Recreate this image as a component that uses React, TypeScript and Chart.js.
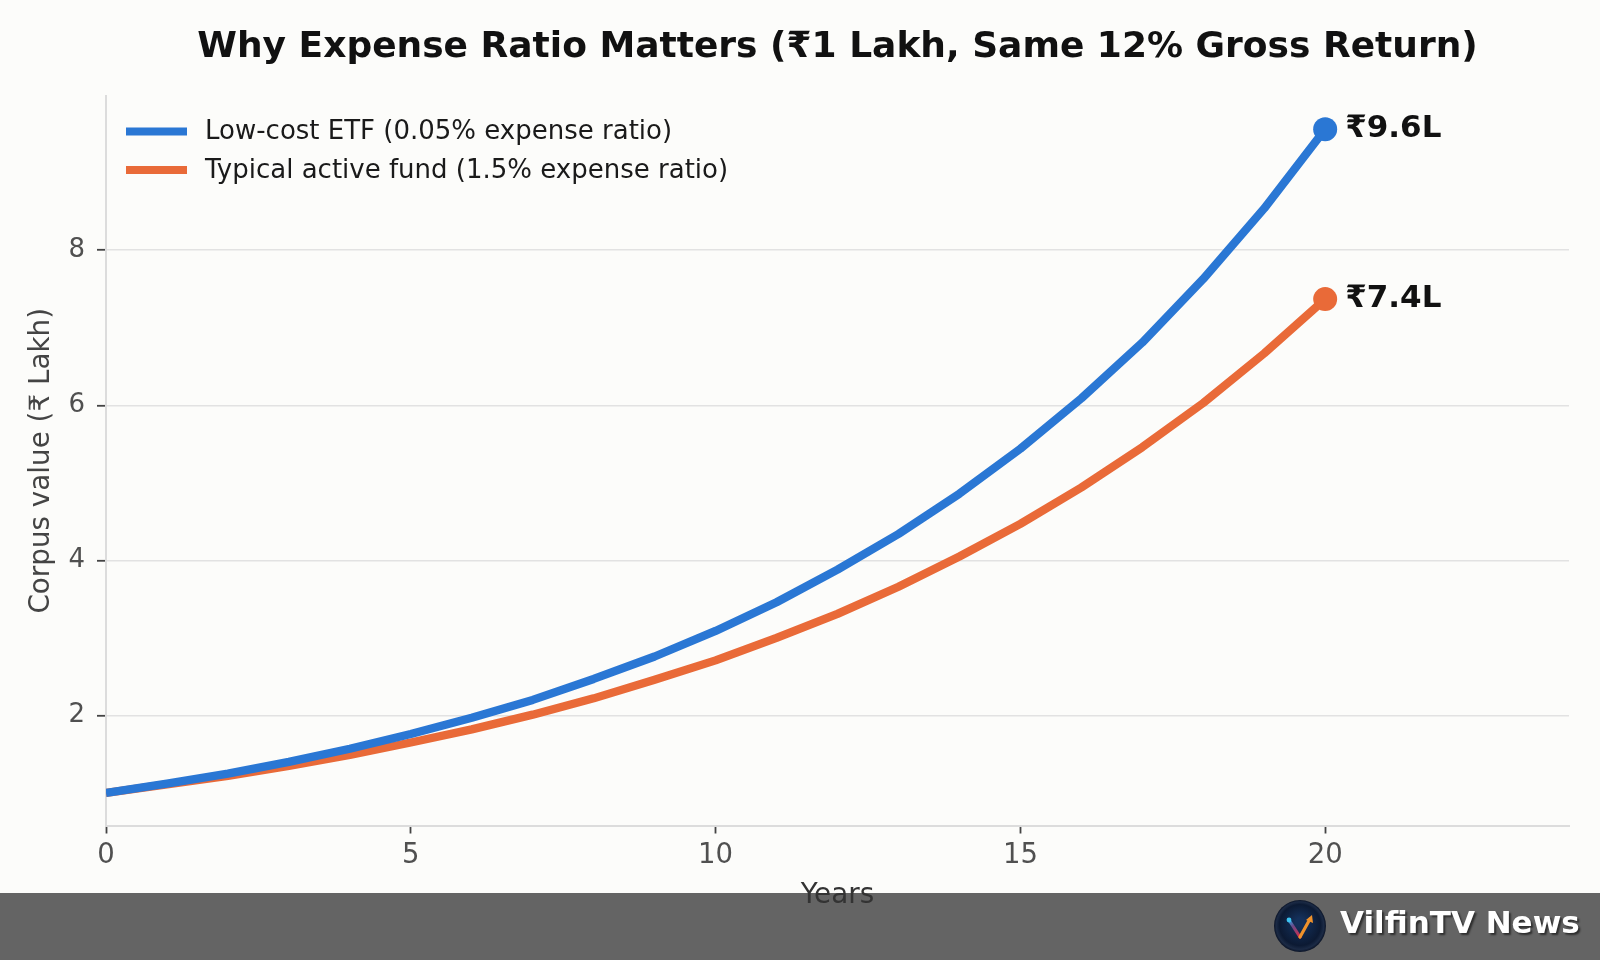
import { useEffect, useRef } from "react";
import { Chart, registerables } from "chart.js";

Chart.register(...registerables);

// Corpus growth of ₹1 lakh, in lakh, year by year
const YEARS = [0, 1, 2, 3, 4, 5, 6, 7, 8, 9, 10, 11, 12, 13, 14, 15, 16, 17, 18, 19, 20];
const ETF_LAKH = [1.0, 1.12, 1.25, 1.4, 1.57, 1.76, 1.97, 2.2, 2.47, 2.76, 3.09, 3.46, 3.88, 4.34, 4.86, 5.44, 6.09, 6.81, 7.63, 8.54, 9.56];
const ACTIVE_LAKH = [1.0, 1.11, 1.22, 1.35, 1.49, 1.65, 1.82, 2.01, 2.22, 2.46, 2.71, 3.0, 3.31, 3.66, 4.05, 4.47, 4.94, 5.46, 6.03, 6.67, 7.37];

const SERIES_LABELS = ["Low-cost ETF (0.05% expense ratio)", "Typical active fund (1.5% expense ratio)"];
const SERIES_COLORS = ["#2a77d4", "#e96a38"];

const X_TICKS = [0, 5, 10, 15, 20];
const Y_TICKS = [2, 4, 6, 8];

const TITLE = "Why Expense Ratio Matters (₹1 Lakh, Same 12% Gross Return)";
const X_TITLE = "Years";
const Y_TITLE = "Corpus value (₹ Lakh)";
const BRAND = "VilfinTV News";

const W = 1600;
const H = 960;
const FONT = "'DejaVu Sans', 'Noto Sans', sans-serif";
const BG = "#fcfcfa";
const FOOTER_TOP = 893;

const backdrop = {
  id: "backdrop",
  beforeDraw(chart: Chart) {
    const ctx = chart.ctx;
    ctx.save();
    ctx.fillStyle = BG;
    ctx.fillRect(0, 0, W, H);

    // footer band
    ctx.fillStyle = "#646464";
    ctx.fillRect(0, FOOTER_TOP, W, H - FOOTER_TOP);

    // round logo badge
    const cx = 1300;
    const cy = 926;
    const r = 26;
    const g = ctx.createRadialGradient(cx, cy - 4, 4, cx, cy, r);
    g.addColorStop(0, "#14305a");
    g.addColorStop(0.75, "#0c1a33");
    g.addColorStop(0.9, "#1b2a45");
    g.addColorStop(1, "#0a1326");
    ctx.beginPath();
    ctx.arc(cx, cy, r, 0, Math.PI * 2);
    ctx.fillStyle = g;
    ctx.fill();

    ctx.lineCap = "round";
    ctx.lineJoin = "round";
    ctx.lineWidth = 3.2;
    const lg = ctx.createLinearGradient(cx - 11, cy - 6, cx, cy + 11);
    lg.addColorStop(0, "#2aa8e8");
    lg.addColorStop(0.35, "#6a4a8a");
    lg.addColorStop(1, "#d22b48");
    ctx.strokeStyle = lg;
    ctx.beginPath();
    ctx.moveTo(cx - 11, cy - 6);
    ctx.lineTo(cx, cy + 11);
    ctx.stroke();
    ctx.strokeStyle = "#f0922b";
    ctx.beginPath();
    ctx.moveTo(cx, cy + 11);
    ctx.lineTo(cx + 10, cy - 7);
    ctx.stroke();
    ctx.fillStyle = "#f0922b";
    ctx.beginPath();
    ctx.moveTo(cx + 12, cy - 11);
    ctx.lineTo(cx + 13, cy - 3);
    ctx.lineTo(cx + 6, cy - 6);
    ctx.closePath();
    ctx.fill();
    ctx.fillStyle = "#3cc4f2";
    ctx.beginPath();
    ctx.arc(cx - 11, cy - 6, 2.4, 0, Math.PI * 2);
    ctx.fill();

    // brand name
    ctx.font = `bold 31px ${FONT}`;
    ctx.textAlign = "left";
    ctx.textBaseline = "middle";
    ctx.shadowColor = "rgba(0,0,0,0.55)";
    ctx.shadowOffsetX = 2;
    ctx.shadowOffsetY = 2;
    ctx.shadowBlur = 2;
    ctx.fillStyle = "#ffffff";
    ctx.fillText(BRAND, 1340, 925);
    ctx.restore();

    // chart heading
    ctx.save();
    ctx.font = `bold 36px ${FONT}`;
    ctx.fillStyle = "#111111";
    ctx.textAlign = "center";
    ctx.textBaseline = "middle";
    const area = chart.chartArea;
    ctx.fillText(TITLE, (area.left + area.right) / 2, 48);
    ctx.restore();
  },
};

const annotations = {
  id: "annotations",
  afterDatasetsDraw(chart: Chart) {
    const ctx = chart.ctx;
    ctx.save();

    // legend inside the plot, top-left
    ctx.font = `26px ${FONT}`;
    ctx.textAlign = "left";
    ctx.textBaseline = "middle";
    chart.data.datasets.forEach((ds, i) => {
      const y = 131.5 + i * 38.5;
      ctx.strokeStyle = ds.borderColor as string;
      ctx.lineWidth = 8;
      ctx.lineCap = "butt";
      ctx.beginPath();
      ctx.moveTo(126, y);
      ctx.lineTo(187, y);
      ctx.stroke();
      ctx.fillStyle = "#1a1a1a";
      ctx.fillText(ds.label as string, 205, y + 1);
    });

    // final value beside each line's end point
    ctx.font = `bold 31px ${FONT}`;
    ctx.fillStyle = "#111111";
    chart.data.datasets.forEach((ds, i) => {
      const meta = chart.getDatasetMeta(i);
      const last = meta.data[meta.data.length - 1];
      const pt = ds.data[ds.data.length - 1] as { x: number; y: number };
      ctx.fillText(`₹${pt.y.toFixed(1)}L`, last.x + 20, last.y);
    });
    ctx.restore();
  },
};

export default function App() {
  const ref = useRef<HTMLCanvasElement | null>(null);

  useEffect(() => {
    if (!ref.current) return;
    Chart.defaults.font.family = FONT;
    const series = [ETF_LAKH, ACTIVE_LAKH];
    const lastIdx = YEARS.length - 1;
    const chart = new Chart(ref.current, {
      type: "line",
      data: {
        datasets: series.map((vals, i) => ({
          label: SERIES_LABELS[i],
          data: YEARS.map((x, k) => ({ x, y: vals[k] })),
          borderColor: SERIES_COLORS[i],
          backgroundColor: SERIES_COLORS[i],
          borderWidth: 8.3,
          borderCapStyle: "butt" as const,
          borderJoinStyle: "round" as const,
          tension: 0,
          fill: false,
          pointRadius: (c: any) => (c.dataIndex === lastIdx ? 12 : 0),
          pointHoverRadius: (c: any) => (c.dataIndex === lastIdx ? 12 : 0),
          pointBorderWidth: 0,
          pointBackgroundColor: SERIES_COLORS[i],
        })),
      },
      options: {
        responsive: false,
        animation: false,
        events: [],
        layout: { padding: { top: 96, right: 31, bottom: 0, left: 0 } },
        plugins: {
          legend: { display: false },
          title: { display: false },
          tooltip: { enabled: false },
        },
        scales: {
          x: {
            type: "linear",
            min: 0,
            max: 24,
            afterBuildTicks: (s: any) => {
              s.ticks = X_TICKS.map((v) => ({ value: v }));
            },
            afterFit: (s: any) => {
              s.height = H - 825.5;
            },
            grid: {
              display: true,
              drawOnChartArea: false,
              drawTicks: true,
              tickLength: 8,
              tickColor: "#444444",
              tickWidth: 1.8,
            },
            border: { display: true, color: "#dcdcdc", width: 2 },
            ticks: {
              color: "#505050",
              font: { size: 27.5 },
              padding: 6,
              maxRotation: 0,
            },
            title: {
              display: true,
              text: X_TITLE,
              color: "#333333",
              font: { size: 27.8 },
              padding: { top: 0, bottom: 48 },
            },
          },
          y: {
            type: "linear",
            min: 0.58,
            max: 9.99,
            afterBuildTicks: (s: any) => {
              s.ticks = Y_TICKS.map((v) => ({ value: v }));
            },
            afterFit: (s: any) => {
              s.width = 106;
            },
            grid: {
              display: true,
              drawOnChartArea: true,
              color: "#e2e2e2",
              lineWidth: 1.6,
              drawTicks: true,
              tickLength: 9,
              tickColor: "#444444",
              tickWidth: 1.8,
            },
            border: { display: true, color: "#dcdcdc", width: 2 },
            ticks: {
              color: "#505050",
              font: { size: 26 },
              padding: 12,
            },
            title: {
              display: true,
              text: Y_TITLE,
              color: "#444444",
              font: { size: 27.8 },
              padding: { top: 25, bottom: 0 },
            },
          },
        },
      },
      plugins: [backdrop, annotations],
    });
    return () => chart.destroy();
  }, []);

  return (
    <div style={{ position: "absolute", left: 0, top: 0, width: W, height: H }}>
      <canvas ref={ref} width={W} height={H} style={{ width: W, height: H, display: "block" }} />
    </div>
  );
}
